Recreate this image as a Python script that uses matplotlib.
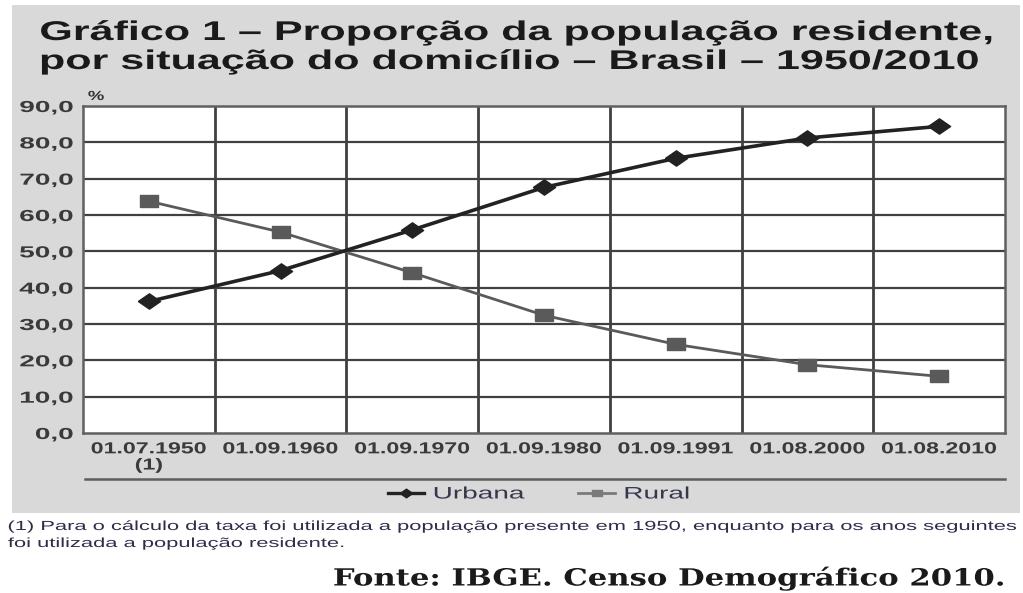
import matplotlib
matplotlib.use("Agg")
import matplotlib.pyplot as plt
from matplotlib.patches import Rectangle
from matplotlib.lines import Line2D
from matplotlib.patheffects import AbstractPathEffect
from matplotlib.transforms import Affine2D

categories = ["01.07.1950\n(1)", "01.09.1960", "01.09.1970", "01.09.1980",
              "01.09.1991", "01.08.2000", "01.08.2010"]
urbana = [36.2, 44.7, 55.9, 67.6, 75.6, 81.2, 84.4]
rural = [63.8, 55.3, 44.1, 32.4, 24.4, 18.8, 15.6]
yticks = [0, 10, 20, 30, 40, 50, 60, 70, 80, 90]
ytick_labels = ["0,0", "10,0", "20,0", "30,0", "40,0", "50,0", "60,0", "70,0", "80,0", "90,0"]


class StretchX(AbstractPathEffect):
    """Horizontally stretch glyph outlines (the reference is a widened scan)."""

    def __init__(self, sx, anchor="left"):
        super().__init__()
        self.sx = sx
        self.anchor = anchor

    def draw_path(self, renderer, gc, tpath, affine, rgbFace=None):
        bb = tpath.get_extents(affine)
        if self.anchor == "left":
            x0 = bb.x0
        elif self.anchor == "right":
            x0 = bb.x1
        else:
            x0 = 0.5 * (bb.x0 + bb.x1)
        new = affine + Affine2D().translate(-x0, 0).scale(self.sx, 1).translate(x0, 0)
        renderer.draw_path(gc, tpath, new, rgbFace)


W, H = 1023, 593
fig = plt.figure(figsize=(W / 100, H / 100), dpi=100)
fig.patch.set_facecolor("white")

# gray panel
fig.patches.append(Rectangle((12 / W, 1 - 513 / H), (1020 - 12) / W, (513 - 5) / H,
                             transform=fig.transFigure, facecolor="#d9d9d9",
                             edgecolor="none", zorder=-1))

ax = fig.add_axes([83 / W, 1 - 433 / H, (1005 - 83) / W, (433 - 106) / H])
ax.set_facecolor("white")
x = list(range(len(categories)))
ax.set_xlim(-0.5, len(categories) - 0.5)
ax.set_ylim(0, 90)

grid_c = "#404040"
for yv in yticks[1:-1]:
    ax.axhline(yv, color=grid_c, lw=1.6, zorder=1)
for xv in range(len(categories) - 1):
    ax.axvline(xv + 0.5, color=grid_c, lw=2.0, zorder=1)
for s in ax.spines.values():
    s.set_color("#606060")
    s.set_linewidth(1.8)

wide_diamond = [(-1.45, 0), (0, 1), (1.45, 0), (0, -1), (-1.45, 0)]
wide_square = [(-1.4, -1), (1.4, -1), (1.4, 1), (-1.4, 1), (-1.4, -1)]

ax.plot(x, rural, color="#5a5a5a", lw=2.0, marker=wide_square, markersize=13,
        markerfacecolor="#5a5a5a", markeredgecolor="#5a5a5a", zorder=3)
ax.plot(x, urbana, color="#222222", lw=2.6, marker=wide_diamond, markersize=16,
        markerfacecolor="#222222", markeredgecolor="#222222", zorder=4)

tick_c = "#3a3a3a"
ax.set_yticks(yticks)
ax.set_yticklabels(ytick_labels, fontsize=11.5, fontweight="bold", color=tick_c,
                   family="Liberation Sans")
ax.set_xticks(x)
ax.set_xticklabels(categories, fontsize=11.5, fontweight="bold", color=tick_c,
                   family="Liberation Sans", linespacing=1.1)
ax.tick_params(length=0)
ax.tick_params(axis="y", pad=7)
ax.tick_params(axis="x", pad=6)
for t in ax.get_yticklabels():
    t.set_path_effects([StretchX(1.75, "right")])
for t in ax.get_xticklabels():
    t.set_path_effects([StretchX(1.45, "center")])

pct = fig.text(88 / W, 1 - 97 / H, "%", fontsize=9.5, fontweight="bold", color="#333333",
               ha="left", va="center", family="Liberation Sans")
pct.set_path_effects([StretchX(1.4, "left")])

# title
title_kw = dict(fontsize=19.5, fontweight="bold", color="#1a1a1a", family="Liberation Sans",
                ha="left", va="baseline")
t1 = fig.text(40 / W, 1 - 40 / H, "Gráfico 1 – Proporção da população residente,", **title_kw)
t2 = fig.text(40 / W, 1 - 69 / H, "por situação do domicílio – Brasil – 1950/2010", **title_kw)
for t in (t1, t2):
    t.set_path_effects([StretchX(1.59, "left")])

# separator line
fig.add_artist(Line2D([85 / W, 1005 / W], [1 - 479 / H, 1 - 479 / H],
                      transform=fig.transFigure, color="#5e5e5e", lw=1.8))

# legend
handles = [Line2D([], [], color="#222222", lw=2.4, marker=wide_diamond, markersize=9),
           Line2D([], [], color="#7a7a7a", lw=2.0, marker=wide_square, markersize=7)]
leg = fig.legend(handles, ["Urbana", "Rural"], loc="center",
                 bbox_to_anchor=(526 / W, 1 - 494 / H), ncol=2, frameon=False,
                 prop={"family": "Liberation Sans", "size": 12}, handlelength=2.2,
                 handletextpad=0.55, columnspacing=5.4)
for t in leg.get_texts():
    t.set_color("#35374a")
    t.set_path_effects([StretchX(1.68, "left")])

# footnote
fn_kw = dict(fontsize=9.5, color="#2e2e4a", family="Liberation Sans", ha="left",
             va="center")
f1 = fig.text(8 / W, 1 - 527 / H,
              "(1) Para o cálculo da taxa foi utilizada a população presente em 1950, "
              "enquanto para os anos seguintes", **fn_kw)
f2 = fig.text(8 / W, 1 - 544 / H, "foi utilizada a população residente.", **fn_kw)
for t in (f1, f2):
    t.set_path_effects([StretchX(1.66, "left")])

src = fig.text(1005 / W, 1 - 578 / H, "Fonte: IBGE. Censo Demográfico 2010.",
               fontsize=17, fontweight="bold", color="#1a1a1a", family="DejaVu Serif",
               ha="right", va="center")
src.set_path_effects([StretchX(1.3, "right")])

fig.savefig("out.png", dpi=100)
